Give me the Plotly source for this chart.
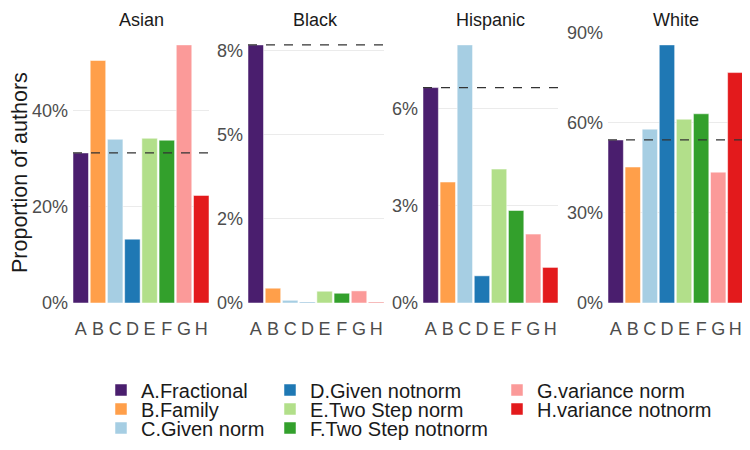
import plotly.graph_objects as go

# ---- data (percent of authors) ----
methods = ["A.Fractional", "B.Family", "C.Given norm", "D.Given notnorm",
           "E.Two Step norm", "F.Two Step notnorm", "G.variance norm", "H.variance notnorm"]
letters = ["A", "B", "C", "D", "E", "F", "G", "H"]
colors = ["#4A1E6E", "#FF9F4A", "#A6CEE3", "#1F78B4", "#B2DF8A", "#33A02C", "#FB9A99", "#E31A1C"]

races = ["Asian", "Black", "Hispanic", "White"]
asian = [31.25, 50.5, 34.1, 13.3, 34.3, 33.9, 53.75, 22.4]
black = [7.68, 0.44, 0.08, 0.02, 0.35, 0.29, 0.36, 0.02]
hispanic = [6.66, 3.74, 7.98, 0.84, 4.14, 2.86, 2.13, 1.10]
white = [54.2, 45.2, 57.8, 85.8, 61.1, 62.9, 43.5, 76.6]
values = [asian, black, hispanic, white]

tickvals_asian = [0, 20, 40]
ticktext_asian = ["0%", "20%", "40%"]
tickvals_black = [0, 2.5, 5, 7.5]
ticktext_black = ["0%", "2%", "5%", "8%"]
tickvals_hispanic = [0, 3, 6]
ticktext_hispanic = ["0%", "3%", "6%"]
tickvals_white = [0, 30, 60, 90]
ticktext_white = ["0%", "30%", "60%", "90%"]
tickvals = [tickvals_asian, tickvals_black, tickvals_hispanic, tickvals_white]
ticktext = [ticktext_asian, ticktext_black, ticktext_hispanic, ticktext_white]

# ---- layout geometry ----
# The page body has an 8px default margin, so the figure is sized to fit the
# 750x450 window and screen positions are converted to figure fractions.
WIN_W, WIN_H, OFF = 750, 450, 8
W, H = WIN_W - OFF, WIN_H - OFF


def fx(px):
    return (px - OFF) / W


def fy(py):
    return 1 - (py - OFF) / H


panel_x = [(73, 209), (248, 384), (423, 558), (608, 743)]
panel_top, panel_bot = 32, 303
ydom = [fy(panel_bot), fy(panel_top)]

FONT = "Liberation Sans, Arial, Helvetica, sans-serif"
TICK_GRAY = "#4D4D4D"

fig = go.Figure()
layout = dict(
    width=W, height=H, autosize=False,
    margin=dict(l=0, r=0, t=0, b=0, pad=0, autoexpand=False),
    paper_bgcolor="white", plot_bgcolor="white",
    barmode="overlay",
    font=dict(family=FONT, color="#1A1A1A"),
    shapes=[], annotations=[],
)

# legend placement: columns (text-left minus 40px), rows (centres)
leg_cols = [101, 270, 497]
leg_rows = [390, 409, 428]

for p, race in enumerate(races):
    ax = "" if p == 0 else str(p + 1)
    for i, m in enumerate(methods):
        legname = "legend" if i == 0 else f"legend{i + 1}"
        fig.add_trace(go.Bar(
            x=[letters[i]], y=[values[p][i]], width=0.9,
            marker=dict(color=colors[i], line=dict(color="white", width=0.5)),
            name=m, legend=legname, showlegend=(p == 0),
            xaxis="x" + ax, yaxis="y" + ax,
            hovertemplate=f"{race}<br>{m}: %{{y:.2f}}%<extra></extra>",
        ))
    x0, x1 = panel_x[p]
    layout["xaxis" + ax] = dict(
        domain=[fx(x0), fx(x1)], anchor="y" + ax,
        type="category", categoryorder="array", categoryarray=letters,
        tickmode="array", tickvals=letters, ticktext=letters,
        range=[-0.45, len(letters) - 0.55],
        showgrid=False, zeroline=False, showline=False, ticks="",
        tickfont=dict(size=18, color=TICK_GRAY, family=FONT),
        ticklabelstandoff=13, automargin=False, fixedrange=True,
    )
    layout["yaxis" + ax] = dict(
        domain=ydom, anchor="x" + ax,
        range=[0, max(values[p]) * 1.05],
        tickmode="array", tickvals=tickvals[p], ticktext=ticktext[p],
        showgrid=True, gridcolor="#EBEBEB", gridwidth=1,
        zeroline=False, showline=False, ticks="",
        tickfont=dict(size=18, color=TICK_GRAY, family=FONT),
        ticklabelstandoff=4, automargin=False, fixedrange=True,
    )
    # dashed reference line at the Fractional (A) value
    layout["shapes"].append(dict(
        type="line", xref="x" + ax + " domain", yref="y" + ax,
        x0=0, x1=1, y0=values[p][0], y1=values[p][0],
        line=dict(color="#333333", width=1.3, dash="dash"), layer="above",
    ))
    # facet strip title
    layout["annotations"].append(dict(
        text=race, xref="x" + ax + " domain", yref="paper",
        x=0.5, y=fy(20), xanchor="center", yanchor="middle",
        showarrow=False, font=dict(size=18, color="#1A1A1A", family=FONT),
    ))

# y-axis title
layout["annotations"].append(dict(
    text="Proportion of authors", xref="paper", yref="paper",
    x=fx(20), y=fy(173), xanchor="center", yanchor="middle",
    textangle=-90, showarrow=False,
    font=dict(size=21.5, color="#1A1A1A", family=FONT),
))

# one legend per entry, arranged column-major in 3 rows
for i in range(len(methods)):
    col, row = divmod(i, 3)
    legname = "legend" if i == 0 else f"legend{i + 1}"
    layout[legname] = dict(
        x=fx(leg_cols[col]), y=fy(leg_rows[row]),
        xanchor="left", yanchor="middle", xref="paper", yref="paper",
        orientation="v", bgcolor="rgba(0,0,0,0)", borderwidth=0,
        font=dict(size=20, color="#1A1A1A", family=FONT),
        itemclick=False, itemdoubleclick=False,
    )

fig.update_layout(**layout)
fig.write_html("out.html")
